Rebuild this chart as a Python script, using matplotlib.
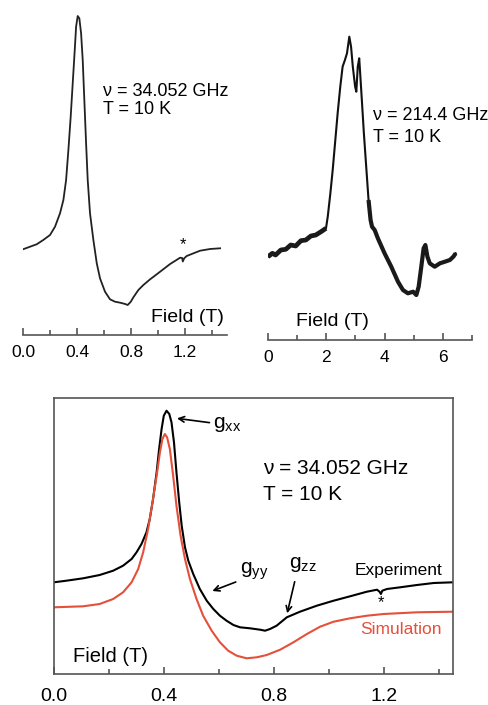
import matplotlib
matplotlib.use("Agg")
import matplotlib.pyplot as plt
import numpy as np

plt.rcParams['font.family'] = ['Liberation Sans', 'DejaVu Sans']

W, H = 488, 705

# ---------------- data ----------------
# Top-left: 34.052 GHz spectrum (arbitrary units)
tl_field = [0.0, 0.052, 0.101, 0.15, 0.2, 0.237, 0.274, 0.299, 0.319, 0.336, 0.353,
            0.368, 0.383, 0.393, 0.405, 0.417, 0.430, 0.442, 0.454, 0.467, 0.479,
            0.496, 0.521, 0.546, 0.570, 0.607, 0.644, 0.681, 0.719, 0.756, 0.775,
            0.798, 0.817, 0.854, 0.891, 0.941, 1.015, 1.089, 1.163, 1.178, 1.183,
            1.193, 1.212, 1.262, 1.311, 1.385, 1.459]
tl_signal = [85.7, 88.3, 90.7, 95, 100, 108.3, 121.7, 135, 155, 185, 218.3,
             251.7, 285, 308.3, 319, 316.7, 301.7, 275, 235, 191.7, 155,
             121.7, 95, 71.7, 56.7, 43.3, 35.7, 33.3, 32.3, 31, 30,
             33.3, 37.7, 45, 50, 55.7, 63.3, 71, 77.3, 77, 73.5,
             76.7, 79, 81.7, 84.3, 86, 86.7]

# Top-right: 214.4 GHz spectrum (arbitrary units)
tr_field = [0.0, 0.15, 0.26, 0.44, 0.61, 0.78, 0.95, 1.13, 1.30, 1.47, 1.64, 1.82, 1.99,
            2.05, 2.14, 2.22, 2.30, 2.39, 2.48, 2.56, 2.64, 2.71, 2.79, 2.85, 2.91,
            2.99, 3.03, 3.08, 3.13, 3.17, 3.22, 3.29, 3.37, 3.45, 3.52, 3.57, 3.66,
            3.77, 4.0, 4.23, 4.46, 4.63, 4.80, 4.98, 5.09, 5.17, 5.26, 5.34, 5.40,
            5.47, 5.55, 5.72, 5.90, 6.07, 6.24, 6.36, 6.44]
tr_signal = [83.3, 86.7, 85, 90, 90.7, 95, 94, 99.3, 100, 104, 105, 108.3, 111.7,
             123.3, 146.7, 170, 196.7, 226.7, 253.3, 273.3, 280, 286.7, 303.3, 293.3, 273.3,
             253.3, 248.3, 273.3, 281.7, 263.3, 240, 206.7, 173.3, 140, 120, 113.3, 110,
             101.7, 86.7, 73.3, 58.3, 50, 46.7, 48.3, 45, 53.3, 73.3, 91.7, 95,
             83.3, 76.7, 73.3, 76.7, 78.3, 80, 83.3, 86.7]

# Bottom: experiment vs simulation (arbitrary units)
exp_field = [0.0, 0.045, 0.106, 0.166, 0.215, 0.251, 0.282, 0.300, 0.318, 0.336, 0.348,
             0.360, 0.373, 0.382, 0.391, 0.399, 0.409, 0.419, 0.427, 0.436, 0.445,
             0.455, 0.464, 0.476, 0.488, 0.506, 0.530, 0.555, 0.579, 0.603, 0.627,
             0.652, 0.676, 0.712, 0.749, 0.767, 0.785, 0.809, 0.846, 0.894, 0.955,
             1.016, 1.076, 1.137, 1.174, 1.183, 1.188, 1.193, 1.210, 1.258, 1.319,
             1.380, 1.450]
exp_signal = [91.7, 93.3, 95.7, 99, 103.3, 108.3, 115, 121.7, 130, 141.7, 155,
              175, 201.7, 225, 245, 258.3, 263.3, 260, 251.7, 231.7, 201.7,
              171.7, 148.3, 126.7, 113.3, 100, 85, 73.3, 65, 58.3, 53.3,
              49, 46.7, 45.7, 44.3, 43.3, 45, 48.3, 56.7, 62.3, 68.3,
              73.3, 77.7, 82.3, 84.3, 82.3, 80, 83.3, 85, 86.7, 89,
              91, 91.7]

sim_field = [0.0, 0.106, 0.166, 0.215, 0.251, 0.282, 0.306, 0.324, 0.342, 0.358, 0.373,
             0.385, 0.394, 0.403, 0.411, 0.421, 0.433, 0.445, 0.460, 0.476, 0.494,
             0.518, 0.542, 0.573, 0.603, 0.633, 0.664, 0.700, 0.737, 0.773, 0.822,
             0.870, 0.919, 0.967, 1.016, 1.076, 1.137, 1.198, 1.319, 1.450]
sim_signal = [66.7, 67.7, 70, 75, 81.7, 91.7, 105, 121.7, 145, 171.7, 198.3,
              221.7, 235, 240, 236.7, 225, 198.3, 168.3, 138.3, 115, 95,
              75, 58.3, 43.3, 31.7, 23.3, 18.3, 15.7, 16.7, 19, 24.3,
              31.7, 40, 47.3, 52.3, 55.7, 58.3, 60, 61.7, 62.3]

tl_ticks = [0.0, 0.4, 0.8, 1.2]
tl_tick_labels = ["0.0", "0.4", "0.8", "1.2"]
tr_ticks = [0, 2, 4, 6]
tr_tick_labels = ["0", "2", "4", "6"]
b_ticks = [0.0, 0.4, 0.8, 1.2]
b_tick_labels = ["0.0", "0.4", "0.8", "1.2"]

red = '#e4503a'
frame = '#555555'

fig = plt.figure(figsize=(W / 100, H / 100), dpi=100)
fig.patch.set_facecolor('white')


def px_axes(x0, y0, x1, y1):
    """axes from pixel box (left, top, right, bottom)"""
    return fig.add_axes([x0 / W, 1 - y1 / H, (x1 - x0) / W, (y1 - y0) / H])


def style_bottom_only(ax, xlim, major, minor, labels):
    ax.set_xlim(*xlim)
    for s in ['top', 'left', 'right']:
        ax.spines[s].set_visible(False)
    ax.spines['bottom'].set_color(frame)
    ax.spines['bottom'].set_linewidth(1.2)
    ax.set_yticks([])
    ax.set_xticks(major)
    ax.set_xticklabels(labels)
    ax.set_xticks(minor, minor=True)
    ax.tick_params(axis='x', which='major', direction='in', length=5, width=1.2,
                   color=frame, labelsize=12.5, pad=7)
    ax.tick_params(axis='x', which='minor', direction='in', length=3.5, width=1.2,
                   color=frame)
    ax.patch.set_alpha(0)


# ---------- top-left ----------
ax1 = px_axes(23, 0, 227, 335)
ax1.plot(tl_field, tl_signal, color='#222222', lw=1.3)
ax1.set_ylim(0, 335)
style_bottom_only(ax1, (0, 1.51), tl_ticks, [0.2, 0.6, 1.0, 1.4], tl_tick_labels)
ax1.text(0.59, 243, "ν = 34.052 GHz", fontsize=13, va='center', ha='left')
ax1.text(0.59, 226, "T = 10 K", fontsize=13, va='center', ha='left')
ax1.text(1.183, 90, "*", fontsize=12, ha='center', va='center')
ax1.text(1.49, 17, "Field (T)", fontsize=14, ha='right', va='center')

# ---------- top-right ----------
ax2 = px_axes(268, 0, 472, 340)
ax2.plot(tr_field, tr_signal, color='#111111', lw=1.5)
ax2.plot(tr_field[:13], tr_signal[:13], color='#1a1a1a', lw=3.4, solid_capstyle='butt')
ax2.plot(tr_field[33:], tr_signal[33:], color='#1a1a1a', lw=3.0, solid_capstyle='butt')
ax2.set_ylim(0, 340)
style_bottom_only(ax2, (0, 7.0), tr_ticks, [1, 3, 5, 7], tr_tick_labels)
ax2.text(3.6, 224, "ν = 214.4 GHz", fontsize=13, va='center', ha='left')
ax2.text(3.6, 203, "T = 10 K", fontsize=13, va='center', ha='left')
ax2.text(0.95, 18, "Field (T)", fontsize=14, ha='left', va='center')

# ---------- bottom ----------
ax3 = px_axes(54, 398, 453, 674)
ax3.plot(exp_field, exp_signal, color='black', lw=1.5)
ax3.plot(sim_field, sim_signal, color=red, lw=1.5)
ax3.set_xlim(0, 1.45)
ax3.set_ylim(0, 276)
for s in ax3.spines.values():
    s.set_color(frame)
    s.set_linewidth(1.2)
ax3.set_yticks([])
ax3.set_xticks(b_ticks)
ax3.set_xticklabels(b_tick_labels)
ax3.set_xticks([0.2, 0.6, 1.0, 1.4], minor=True)
ax3.tick_params(axis='x', which='major', direction='in', length=5, width=1.2,
                color=frame, labelsize=14, pad=10)
ax3.tick_params(axis='x', which='minor', direction='in', length=3.5, width=1.2,
                color=frame)

ax3.text(0.758, 206, "ν = 34.052 GHz", fontsize=15, va='center', ha='left')
ax3.text(0.758, 180, "T = 10 K", fontsize=15, va='center', ha='left')
ax3.text(1.41, 104, "Experiment", fontsize=12.5, ha='right', va='center')
ax3.text(1.41, 45, "Simulation", fontsize=12.5, ha='right', va='center', color=red)
ax3.text(0.07, 18, "Field (T)", fontsize=14.5, ha='left', va='center')
ax3.text(1.19, 71, "*", fontsize=12, ha='center', va='center')

ax3.annotate("", xy=(0.437, 256), xytext=(0.575, 251),
             arrowprops=dict(arrowstyle='->', color='black', lw=1.2))
ax3.text(0.578, 250, "g$_{\\mathregular{xx}}$", fontsize=15, ha='left', va='center')
ax3.annotate("", xy=(0.566, 82), xytext=(0.67, 93),
             arrowprops=dict(arrowstyle='->', color='black', lw=1.2))
ax3.text(0.675, 103, "g$_{\\mathregular{yy}}$", fontsize=15, ha='left', va='center')
ax3.annotate("", xy=(0.845, 58), xytext=(0.877, 95),
             arrowprops=dict(arrowstyle='->', color='black', lw=1.2))
ax3.text(0.855, 109, "g$_{\\mathregular{zz}}$", fontsize=15, ha='left', va='center')

fig.savefig("out.png", dpi=100, facecolor='white')
